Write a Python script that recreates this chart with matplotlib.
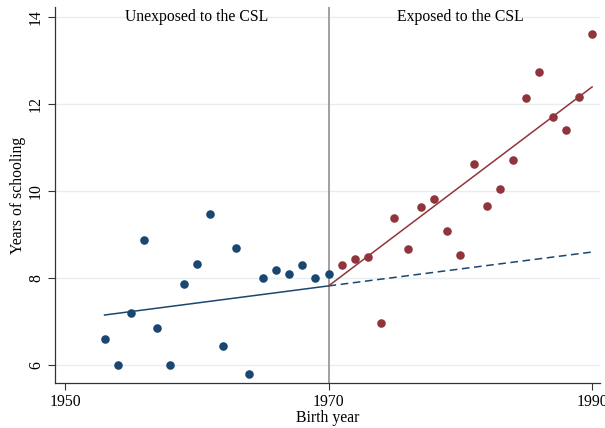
import matplotlib
matplotlib.use("Agg")
import matplotlib.pyplot as plt

# cohort means
years_pre = list(range(1953, 1971))
school_pre = [6.60, 6.00, 7.20, 8.87, 6.85, 6.00, 7.86, 8.32, 9.47, 6.44,
              8.69, 5.79, 8.00, 8.18, 8.09, 8.30, 8.00, 8.09]
years_post = list(range(1971, 1991))
school_post = [8.30, 8.43, 8.48, 6.97, 9.38, 8.66, 9.63, 9.82, 9.08, 8.52,
               10.62, 9.67, 10.06, 10.71, 12.15, 12.74, 11.70, 11.40, 12.17, 13.62]

# fitted lines (endpoints)
fit_pre_x = [1953, 1970]
fit_pre_y = [7.15, 7.82]
fit_cf_x = [1970, 1990]
fit_cf_y = [7.82, 8.60]
fit_post_x = [1970, 1990]
fit_post_y = [7.82, 12.40]

y_ticks = [6, 8, 10, 12, 14]
x_ticks = [1950, 1970, 1990]
cutoff = 1970

BLUE = "#1a476f"
RED = "#90353b"

plt.rcParams["font.family"] = ["Liberation Serif", "DejaVu Serif"]
plt.rcParams["font.size"] = 11.3

fig = plt.figure(figsize=(6.05, 4.28), dpi=100)
ax = fig.add_axes([55 / 605, 45 / 428, 545 / 605, 376 / 428])

for y in y_ticks:
    ax.axhline(y, color="#e6eef0", lw=1.0, zorder=0)

ax.axvline(cutoff, color="#999999", lw=1.3, zorder=1)

ax.plot(fit_pre_x, fit_pre_y, color=BLUE, lw=1.1, zorder=2)
ax.plot(fit_cf_x, fit_cf_y, color=BLUE, lw=1.1, ls=(0, (5, 3)), zorder=2)
ax.plot(fit_post_x, fit_post_y, color=RED, lw=1.1, zorder=2)

ax.scatter(years_pre, school_pre, s=38, color=BLUE, linewidths=0, zorder=3)
ax.scatter(years_post, school_post, s=38, color=RED, linewidths=0, zorder=3)

ax.text(1960, 14.0, "Unexposed to the CSL", ha="center", va="center")
ax.text(1980, 14.0, "Exposed to the CSL", ha="center", va="center")

ax.set_xlim(1949.24, 1990.6)
ax.set_ylim(5.585, 14.24)
ax.set_xticks(x_ticks)
ax.set_yticks(y_ticks)
ax.tick_params(axis="y", labelrotation=90, length=5, width=0.8, color="#333333", pad=3)
ax.tick_params(axis="x", length=5, width=0.8, color="#333333", pad=3)
for lab in ax.get_yticklabels():
    lab.set_va("center")

for side in ("top", "right"):
    ax.spines[side].set_visible(False)
for side in ("left", "bottom"):
    ax.spines[side].set_color("#333333")
    ax.spines[side].set_linewidth(0.9)

ax.set_xlabel("Birth year", labelpad=0)
ax.set_ylabel("Years of schooling", labelpad=1)

fig.savefig("out.png", dpi=100)
